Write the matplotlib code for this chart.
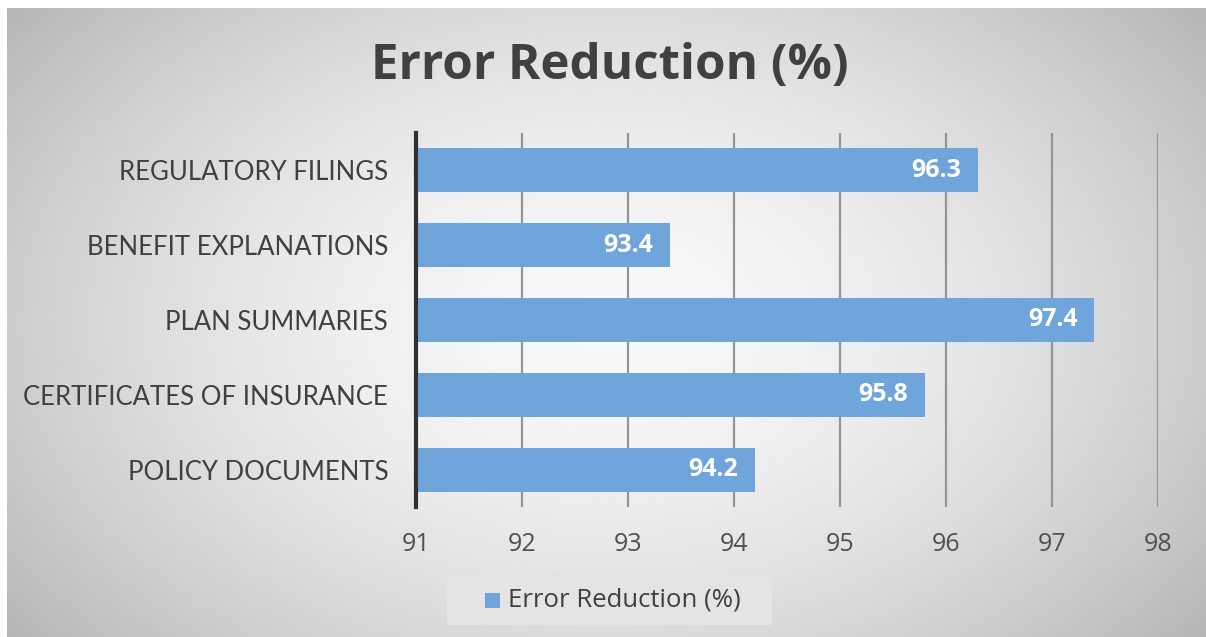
import numpy as np
import matplotlib.pyplot as plt
from matplotlib.patches import Rectangle

categories = ["POLICY DOCUMENTS", "CERTIFICATES OF INSURANCE", "PLAN SUMMARIES",
              "BENEFIT EXPLANATIONS", "REGULATORY FILINGS"]
values = [94.2, 95.8, 97.4, 93.4, 96.3]
series_name = "Error Reduction (%)"
x_ticks = [91, 92, 93, 94, 95, 96, 97, 98]

bar_color = "#6fa5db"
text_color = "#404040"

fig = plt.figure(figsize=(12.06, 6.37), dpi=100)
fig.patch.set_facecolor("white")

# radial gradient background of the chart area
bg = fig.add_axes([7 / 1206, 0, 1 - 7 / 1206, 629 / 637])
bg.set_axis_off()
yy, xx = np.mgrid[-1:1:300j, -1:1:600j]
r = np.sqrt((xx * 0.95) ** 2 + (yy * 0.75) ** 2)
shade = 0.975 - 0.19 * np.clip(r, 0, 1.3) ** 1.7
bg.imshow(shade, cmap="gray", vmin=0, vmax=1, aspect="auto",
          extent=[0, 1, 0, 1], interpolation="bilinear")
bg.set_xlim(0, 1)
bg.set_ylim(0, 1)

ax = fig.add_axes([416 / 1206, 130 / 637, 742 / 1206, 374 / 637])
ax.set_facecolor("none")
ypos = np.arange(len(categories))
ax.barh(ypos, [v - x_ticks[0] for v in values], left=x_ticks[0], height=0.59,
        color=bar_color, zorder=2)
for y, v in zip(ypos, values):
    ax.text(v - 0.16, y, f"{v}", ha="right", va="center", color="white",
            fontsize=18, fontweight="bold", family="Open Sans", zorder=3)

ax.set_xlim(x_ticks[0], x_ticks[-1])
ax.set_ylim(-0.5, len(categories) - 0.5)
ax.set_xticks(x_ticks)
ax.set_yticks(ypos)
ax.set_yticklabels(categories, fontsize=18.5, color=text_color, family="Lato")
ax.tick_params(axis="y", length=0, pad=20)
ax.tick_params(axis="x", length=0, pad=18, labelsize=18, labelcolor="#505050")
for lab in ax.get_xticklabels():
    lab.set_family("Open Sans")
ax.grid(axis="x", color="#959595", linewidth=1.6, zorder=1)
for s in ["top", "right", "bottom"]:
    ax.spines[s].set_visible(False)
ax.spines["left"].set_color("#303030")
ax.spines["left"].set_linewidth(3)
ax.spines["left"].set_zorder(4)

fig.text(610 / 1206, 1 - 66 / 637, series_name, ha="center", va="center",
         fontsize=35.5, fontweight="bold", color=text_color, family="Open Sans")

# legend box
fig.patches.append(Rectangle((447 / 1206, 12 / 637), 325 / 1206, 48 / 637,
                             transform=fig.transFigure, facecolor="#e4e4e4",
                             edgecolor="none", zorder=1))
fig.patches.append(Rectangle((485 / 1206, 29 / 637), 15 / 1206, 15 / 637,
                             transform=fig.transFigure, facecolor=bar_color,
                             edgecolor="none", zorder=2))
fig.text(508 / 1206, 37 / 637, series_name, ha="left", va="center",
         fontsize=18.5, color=text_color, family="Open Sans")

fig.savefig("out.png", dpi=100)
